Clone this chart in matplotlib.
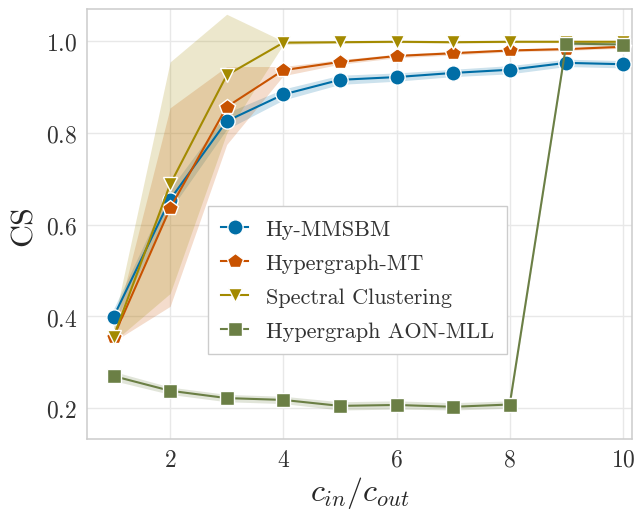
import matplotlib
matplotlib.use("Agg")
import matplotlib.pyplot as plt
import numpy as np

plt.rcParams['font.family'] = 'serif'
plt.rcParams['font.serif'] = ['cmr10', 'DejaVu Serif']
plt.rcParams['mathtext.fontset'] = 'cm'
plt.rcParams['axes.formatter.use_mathtext'] = True

# ratio c_in / c_out
x = [1, 2, 3, 4, 5, 6, 7, 8, 9, 10]

# Hy-MMSBM
hy_mean = [0.399, 0.655, 0.826, 0.884, 0.916, 0.922, 0.931, 0.938, 0.953, 0.950]
hy_low = [0.382, 0.632, 0.808, 0.872, 0.906, 0.913, 0.923, 0.929, 0.945, 0.942]
hy_high = [0.416, 0.678, 0.844, 0.896, 0.926, 0.931, 0.939, 0.947, 0.961, 0.958]

# Hypergraph-MT
mt_mean = [0.355, 0.636, 0.857, 0.937, 0.955, 0.968, 0.974, 0.980, 0.983, 0.988]
mt_low = [0.345, 0.422, 0.775, 0.925, 0.950, 0.964, 0.970, 0.977, 0.980, 0.985]
mt_high = [0.368, 0.855, 0.945, 0.945, 0.960, 0.972, 0.978, 0.983, 0.986, 0.991]

# Spectral Clustering
sc_mean = [0.355, 0.688, 0.926, 0.997, 0.998, 0.999, 0.998, 0.999, 0.999, 0.999]
sc_low = [0.345, 0.450, 0.800, 0.993, 0.996, 0.997, 0.996, 0.997, 0.997, 0.997]
sc_high = [0.384, 0.955, 1.059, 1.000, 1.000, 1.000, 1.000, 1.000, 1.000, 1.000]

# Hypergraph AON-MLL
aon_mean = [0.270, 0.238, 0.222, 0.218, 0.205, 0.207, 0.203, 0.208, 0.995, 0.993]
aon_low = [0.260, 0.230, 0.214, 0.210, 0.196, 0.198, 0.196, 0.200, 0.990, 0.988]
aon_high = [0.280, 0.246, 0.230, 0.226, 0.214, 0.216, 0.212, 0.216, 1.000, 0.998]

series = [
    ("Hy-MMSBM", hy_mean, hy_low, hy_high, "#006ea6", "o", 11),
    ("Hypergraph-MT", mt_mean, mt_low, mt_high, "#c85200", "p", 11.5),
    ("Spectral Clustering", sc_mean, sc_low, sc_high, "#a38a00", "v", 10.5),
    ("Hypergraph AON-MLL", aon_mean, aon_low, aon_high, "#6b7f45", "s", 10),
]

fig = plt.figure(figsize=(6.39, 5.10), dpi=100)
ax = fig.add_axes([0.136, 0.137, 0.853, 0.843])

# bands first, lines on top
for name, m, lo, hi, c, mk, ms in series:
    ax.fill_between(x, lo, hi, color=c, alpha=0.2, linewidth=0, zorder=1)
for name, m, lo, hi, c, mk, ms in series:
    ax.plot(x, m, color=c, marker=mk, markersize=ms, markeredgecolor="white",
            markeredgewidth=1.0, linewidth=1.5, label=name, zorder=3)

ax.set_xlim(0.53, 10.16)
ax.set_ylim(0.1325, 1.07)
ax.set_xticks([2, 4, 6, 8, 10])
ax.set_yticks([0.2, 0.4, 0.6, 0.8, 1.0])
ax.tick_params(length=0, labelsize=17, colors="#333333", pad=7)
ax.grid(True, color="#e8e8e8", linewidth=1.0, zorder=0)
ax.set_axisbelow(True)
for s in ax.spines.values():
    s.set_color("#cccccc")
    s.set_linewidth(1.1)

ax.set_xlabel(r"$c_{in}/c_{out}$", fontsize=23, color="#262626", labelpad=2)
ax.set_ylabel("CS", fontsize=23, color="#262626", labelpad=6)

leg = ax.legend(loc="upper left", bbox_to_anchor=(0.222, 0.542), fontsize=16,
                fancybox=False, edgecolor="#cccccc", framealpha=1.0,
                handlelength=1.2, handletextpad=0.8, borderpad=0.6,
                labelspacing=0.65, borderaxespad=0)
for t in leg.get_texts():
    t.set_color("#333333")

fig.savefig("out.png", dpi=100)
